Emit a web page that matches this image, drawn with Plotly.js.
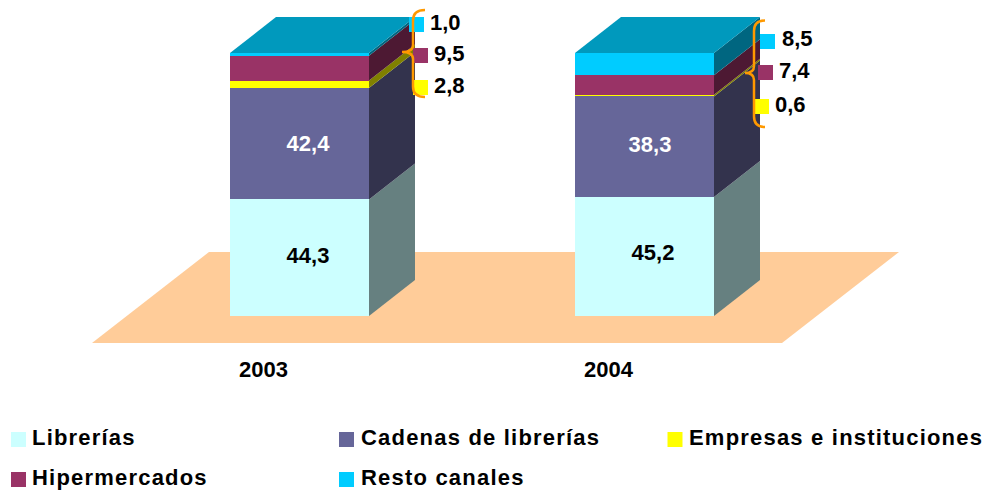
<!DOCTYPE html>
<html>
<head>
<meta charset="utf-8">
<script src="https://cdn.plot.ly/plotly-3.0.1.min.js"></script>
<style>
html,body{margin:0;padding:0;background:#fff}
.tracelegendtext text{letter-spacing:1.2px}
</style>
</head>
<body>
<div id="chart" style="width:988px;height:492px"></div>
<script>
// ---- data ----
const years = [2003, 2004];
const categories = ["Librerías", "Cadenas de librerías", "Empresas e instituciones", "Hipermercados", "Resto canales"];
const librerias = [44.3, 45.2];
const cadenas = [42.4, 38.3];
const empresas = [2.8, 0.6];
const hipermercados = [9.5, 7.4];
const resto = [1.0, 8.5];
const frontColors = ["#CCFFFF", "#666699", "#FFFF00", "#993366", "#00CCFF"];
const sideColors = ["#668080", "#33334D", "#808000", "#4D1933", "#006680"];
const topColor = "#0099BD";
const floorColor = "#FFCC99";
const braceColor = "#FF9900";

// ---- scale of the drawing ----
const W = 988, H = 492;
const pxPerYear = 345, pxPerUnit = 2.63, yearOriginPx = 299.5, baselinePx = 316;
const X = p => 2003 + (p - yearOriginPx) / pxPerYear;
const Y = p => (baselinePx - p) / pxPerUnit;
const barW = 139 / pxPerYear, depthX = 46 / pxPerYear, depthY = 36 / pxPerUnit;
const fmt = v => v.toFixed(1).replace(".", ",");
const series = [librerias, cadenas, empresas, hipermercados, resto];

const traces = [];
// front faces
series.forEach((vals, i) => traces.push({
  type: "bar", x: years, y: vals, name: categories[i], width: barW,
  marker: {color: frontColors[i], line: {width: 0}}, showlegend: false, hoverinfo: "x+y+name"
}));
// side and top faces computed from the stack
const poly = (xs, ys, color) => traces.push({
  type: "scatter", mode: "lines", x: xs, y: ys, fill: "toself", fillcolor: color,
  line: {width: 0, color: color}, showlegend: false, hoverinfo: "skip"
});
years.forEach((yr, k) => {
  const r = yr + barW / 2;
  let base = 0;
  series.forEach((vals, i) => {
    const t = base + vals[k];
    poly([r, r + depthX, r + depthX, r, r],
         [base, base + depthY, t + depthY, t, base], sideColors[i]);
    base = t;
  });
  const l = yr - barW / 2;
  poly([l, r, r + depthX, l + depthX, l], [base, base, base + depthY, base + depthY, base], topColor);
});

// labels inside the two large segments
const innerOffsets = {dx: [[8.5, 8.5], [8.5, 5.5]], dy: [[0, 2.5], [-2, 0.5]]};
[0, 1].forEach(s => {
  let lower = s === 0 ? [0, 0] : librerias;
  traces.push({
    type: "scatter", mode: "text", x: years.map((y, k) => y + innerOffsets.dx[s][k] / pxPerYear),
    y: series[s].map((v, k) => lower[k] + v / 2 + innerOffsets.dy[s][k] / pxPerUnit),
    text: series[s].map(fmt), textposition: "middle center",
    textfont: {family: "Liberation Sans", size: 22, weight: 700, color: s === 0 ? "#000000" : "#FFFFFF"},
    showlegend: false, hoverinfo: "skip"
  });
});

// small series keys with values next to the bars
const keySeries = [4, 3, 2, 4, 3, 2];
const keyYear = [0, 0, 0, 1, 1, 1];
const keySwatchX = [416.5, 420.5, 420.5, 767.5, 765.5, 761.5];
const keySwatchY = [24.5, 55.5, 87.5, 41.5, 72.5, 106.5];
const keyTextX = [430, 434, 434, 782, 779, 775];
const keyTextY = [24, 55, 87, 40.5, 72, 106];
traces.push({
  type: "scatter", mode: "markers", x: keySwatchX.map(X), y: keySwatchY.map(Y),
  marker: {symbol: "square", size: 15, color: keySeries.map(s => frontColors[s]), line: {width: 0}},
  showlegend: false, hoverinfo: "skip"
});
traces.push({
  type: "scatter", mode: "text", x: keyTextX.map(X), y: keyTextY.map(Y),
  text: keySeries.map((s, i) => fmt(series[s][keyYear[i]])), textposition: "middle right",
  textfont: {family: "Liberation Sans", size: 22, weight: 700, color: "#000000"},
  showlegend: false, hoverinfo: "skip"
});

// legend
const legendSwatchX = [18.5, 346.5, 675, 18.5, 346.5];
const legendSwatchY = [439.5, 439.5, 439.5, 479.5, 479.5];
const legendTextX = [32, 361, 689, 32, 361];
const legendTextY = [439, 439, 439, 479, 479];
traces.push({
  type: "scatter", mode: "markers", x: legendSwatchX.map(X), y: legendSwatchY.map(Y),
  marker: {symbol: "square", size: 15, color: frontColors, line: {width: 0}},
  showlegend: false, hoverinfo: "skip"
});
traces.push({
  type: "scatter", mode: "text", uid: "legendtext", x: legendTextX.map(X), y: legendTextY.map(Y),
  text: categories, textposition: "middle right",
  textfont: {family: "Liberation Sans", size: 22, weight: 700, color: "#000000"},
  showlegend: false, hoverinfo: "skip"
});

// floor and braces
const floorPx = [[92, 343], [782, 343], [899, 252], [209, 252]];
const floorPath = "M" + floorPx.map(p => X(p[0]) + "," + Y(p[1])).join(" L") + " Z";
const brace = (endX, spineX, tipX, topY, tipY, botY) => {
  const pt = (x, y) => (x / W) + "," + (1 - y / H);
  const r = 7;
  return "M" + pt(endX, topY) +
    " Q" + pt(spineX, topY) + " " + pt(spineX, topY + r * 1.5) +
    " L" + pt(spineX, tipY - r) +
    " Q" + pt(spineX, tipY) + " " + pt(tipX, tipY) +
    " Q" + pt(spineX, tipY) + " " + pt(spineX, tipY + r) +
    " L" + pt(spineX, botY - r * 1.5) +
    " Q" + pt(spineX, botY) + " " + pt(endX, botY);
};
const shapes = [
  {type: "path", xref: "x", yref: "y", layer: "below", path: floorPath, fillcolor: floorColor, line: {width: 0}},
  {type: "path", xref: "paper", yref: "paper", layer: "above", path: brace(425, 413, 402, 10, 52, 97),
   line: {color: braceColor, width: 2.5}},
  {type: "path", xref: "paper", yref: "paper", layer: "above", path: brace(765, 754, 745, 20.5, 73, 127),
   line: {color: braceColor, width: 2.5}}
];

const layout = {
  width: W, height: H, autosize: false, margin: {l: 0, r: 0, t: 0, b: 0, pad: 0},
  paper_bgcolor: "#FFFFFF", plot_bgcolor: "rgba(0,0,0,0)", barmode: "stack", showlegend: false,
  shapes: shapes,
  xaxis: {
    type: "linear", range: [X(0), X(W)], showgrid: false, zeroline: false, showline: false, ticks: "",
    tickmode: "array", tickvals: years.map(y => y - 36 / pxPerYear), ticktext: years.map(String),
    tickfont: {family: "Liberation Sans", size: 22, weight: 700, color: "#000000"},
    anchor: "free", position: 1 - 354 / H
  },
  yaxis: {range: [Y(H), Y(0)], visible: false, domain: [0, 1]}
};
Plotly.newPlot("chart", traces, layout, {displayModeBar: false, staticPlot: true});
</script>
</body>
</html>
